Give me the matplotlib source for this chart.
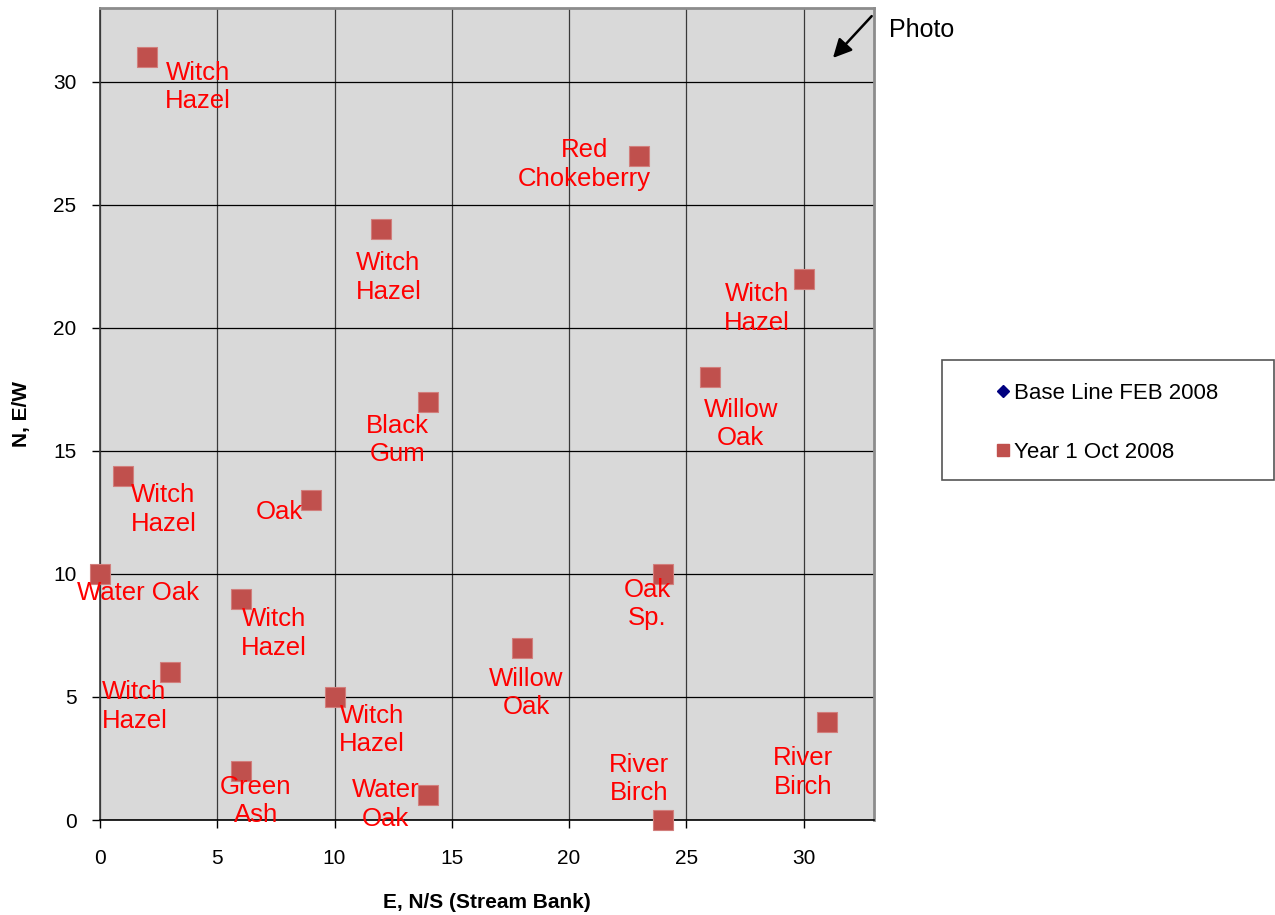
import numpy as np
import matplotlib
matplotlib.use("Agg")
import matplotlib.pyplot as plt
from matplotlib.lines import Line2D
from matplotlib.patches import Rectangle

plt.rcParams['font.family'] = ['Liberation Sans', 'DejaVu Sans']

# Data: tree positions (Year 1 Oct 2008)
x_vals = [2, 12, 23, 30, 26, 14, 1, 9, 0, 24, 6, 18, 3, 10, 31, 6, 14, 24]
y_vals = [31, 24, 27, 22, 18, 17, 14, 13, 10, 10, 9, 7, 6, 5, 4, 2, 1, 0]
tree_names = ["Witch\nHazel", "Witch\nHazel", "Red\nChokeberry", "Witch\nHazel",
              "Willow\nOak", "Black\nGum", "Witch\nHazel", "Oak", "Water Oak",
              "Oak\nSp.", "Witch\nHazel", "Willow\nOak", "Witch\nHazel",
              "Witch\nHazel", "River\nBirch", "Green\nAsh", "Water\nOak",
              "River\nBirch"]
# baseline series has no visible points
base_x = []
base_y = []

# label offsets in pixels (dx right, dy down)
label_offsets = [(51, 30), (7, 48), (-55, 9), (-47, 30), (31, 47), (-31, 38),
                 (40, 34), (-32, 12), (38, 19), (-16, 30), (33, 35), (4, 45),
                 (-36, 34), (37, 33), (-24, 51), (15, 30), (-43, 9), (-24, -41)]

W, H = 1275, 915
fig = plt.figure(figsize=(W / 100, H / 100), dpi=100)
ax = fig.add_axes([100 / W, 1 - 820 / H, 774 / W, 812 / H])
ax.set_facecolor('#D9D9D9')

ax.plot(base_x, base_y, 'D', color='#000080', markersize=6, linestyle='none')
ax.plot(x_vals, y_vals, 's', color='#C0504D', markeredgecolor='#D27E7C',
        markeredgewidth=0.8, markersize=14, linestyle='none', clip_on=False, zorder=5)

for x, y, name, (dx, dy) in zip(x_vals, y_vals, tree_names, label_offsets):
    ax.annotate(name, xy=(x, y), xytext=(dx, -dy), textcoords='offset pixels',
                ha='center', va='center', color='red', fontsize=18.5,
                linespacing=1.23, annotation_clip=False, zorder=6)

ax.set_xlim(0, 33)
ax.set_ylim(0, 33)
ax.set_xticks(np.arange(0, 31, 5))
ax.set_yticks(np.arange(0, 31, 5))
ax.tick_params(axis='both', direction='out', length=6, width=1, labelsize=15)
ax.tick_params(axis='x', pad=15)
ax.tick_params(axis='y', pad=11)

ax.grid(True, axis='y', color='black', linewidth=0.9)
ax.grid(True, axis='x', color='#3a3a3a', linewidth=0.9)
ax.set_axisbelow(True)

for side in ['top', 'right']:
    ax.spines[side].set_color('#8c8c8c')
    ax.spines[side].set_linewidth(2)
ax.spines['left'].set_color('#3a3a3a')
ax.spines['left'].set_linewidth(1.2)
ax.spines['bottom'].set_color('black')
ax.spines['bottom'].set_linewidth(1.2)

ax.set_xlabel('E, N/S (Stream Bank)', fontsize=15, fontweight='bold', labelpad=18)
ax.set_ylabel('N, E/W', fontsize=15, fontweight='bold', labelpad=16)

# Photo arrow
ax.annotate('', xy=(31.25, 30.97), xytext=(0.997, 0.99), xycoords='data',
            textcoords='axes fraction',
            arrowprops=dict(arrowstyle='-|>', color='black', lw=1.8,
                            mutation_scale=28, shrinkA=0, shrinkB=0),
            annotation_clip=False)
fig.text(889 / W, 1 - 30 / H, 'Photo', fontsize=18, ha='left', va='center')

# legend
fig.patches.append(Rectangle((942 / W, 1 - 480 / H), 332 / W, 120 / H,
                             transform=fig.transFigure, facecolor='white',
                             edgecolor='#555555', linewidth=1.2))
handles = [Line2D([], [], marker='D', color='#000080', linestyle='none', markersize=6),
           Line2D([], [], marker='s', color='#C0504D', linestyle='none', markersize=8.5)]
fig.legend(handles, ['Base Line FEB 2008', 'Year 1 Oct 2008'], loc='upper left',
           bbox_to_anchor=(996 / W, 1 - 383 / H), frameon=False, fontsize=16,
           handlelength=0.6, handletextpad=0.2, labelspacing=1.7,
           borderpad=0, borderaxespad=0)

fig.savefig('out.png', dpi=100)
